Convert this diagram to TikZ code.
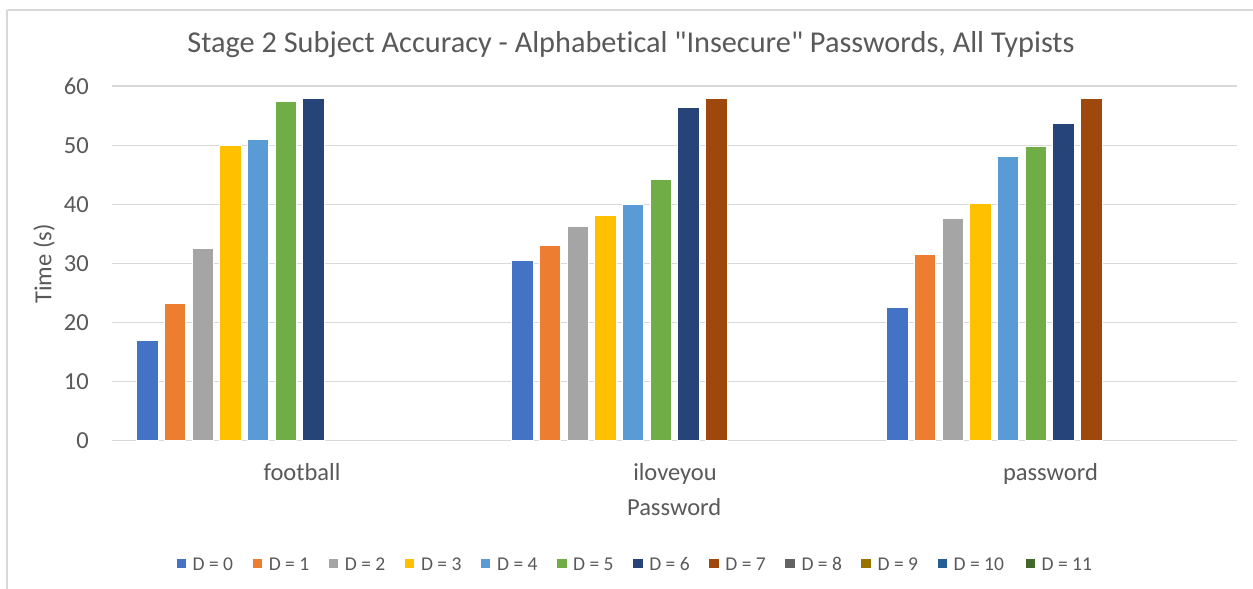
\documentclass[tikz,border=0pt]{standalone}
\usepackage{fontspec}
\setmainfont{Carlito}[Ligatures={NoCommon,TeXOff}]
\definecolor{txt}{HTML}{595959}
\definecolor{gridc}{HTML}{D9D9D9}
\definecolor{framec}{HTML}{D9D9D9}
\definecolor{ser0}{HTML}{4472C4}
\definecolor{ser1}{HTML}{ED7D31}
\definecolor{ser2}{HTML}{A5A5A5}
\definecolor{ser3}{HTML}{FFC000}
\definecolor{ser4}{HTML}{5B9BD5}
\definecolor{ser5}{HTML}{70AD47}
\definecolor{ser6}{HTML}{264478}
\definecolor{ser7}{HTML}{9E480E}
\definecolor{ser8}{HTML}{636363}
\definecolor{ser9}{HTML}{997300}
\definecolor{ser10}{HTML}{255E91}
\definecolor{ser11}{HTML}{43682B}
\tikzset{
  axislabel/.style={text=txt, font=\fontsize{24.5}{29}\selectfont, inner sep=0pt},
  legendlabel/.style={text=txt, font=\fontsize{19.5}{23}\selectfont, inner sep=0pt, anchor=base west},
  gridline/.style={draw=gridc, line width=1.4pt},
  bar/.style={draw=white, line width=0.6pt},
}
\begin{document}
\begin{tikzpicture}[x=1pt, y=-1pt]
  % canvas and chart frame
  \useasboundingbox (0,0) rectangle (1253,589);
  \fill[white] (0,0) rectangle (1253,589);
  \draw[framec, line width=1.3pt] (7,10) -- (1253,10);
  \draw[framec, line width=1.3pt] (7,10) -- (7,589);

  % title
  \node[text=txt, font=\fontsize{30.3}{36}\selectfont, inner sep=0pt, anchor=base] (title) at (631,52.5)
    {Stage 2 Subject Accuracy - Alphabetical "Insecure" Passwords, All Typists};

  % horizontal gridlines and value labels
  \foreach \v in {0,10,...,60} {
    \draw[gridline] (112,{440.7-\v*5.91}) -- (1237,{440.7-\v*5.91});
    \node[axislabel, anchor=base east] (tick\v) at (89,{440.7-\v*5.91+8}) {\v};
  }

  % bars: group left edge / values for D = 0, 1, 2, ...
  \foreach \gx/\vals in {
      136.4/{17.0,23.2,32.6,50.0,51.0,57.5,57.9},
      511.4/{30.5,33.1,36.3,38.2,40.0,44.2,56.4,57.9},
      886.4/{22.6,31.6,37.6,40.1,48.1,49.8,53.7,57.9}} {
    \foreach \v [count=\i from 0] in \vals {
      \filldraw[bar, fill=ser\i] ({\gx+\i*27.7},440.7) rectangle ++(21.5,{-\v*5.91});
    }
  }

  % category labels
  \node[axislabel, anchor=base] (catA) at (302,480.5) {football};
  \node[axislabel, anchor=base] (catB) at (675,480.5) {iloveyou};
  \node[axislabel, anchor=base] (catC) at (1050.5,480.5) {password};

  % axis titles
  \node[axislabel, anchor=base] (xtitle) at (674.2,515.7) {Password};
  \node[axislabel, rotate=90] (ytitle) at (44,264) {Time (s)};

  % legend
  \foreach \lx/\k in {176.5/0,252.6/1,328.7/2,404.8/3,480.9/4,557/5,633.1/6,709.2/7,785.3/8,861.4/9,937.5/10,1025.5/11} {
    \fill[ser\k] (\lx,558.5) rectangle ++(9.5,9.5);
    \node[legendlabel] (leg\k) at ({\lx+16},570) {D = \k};
  }
\end{tikzpicture}
\end{document}
